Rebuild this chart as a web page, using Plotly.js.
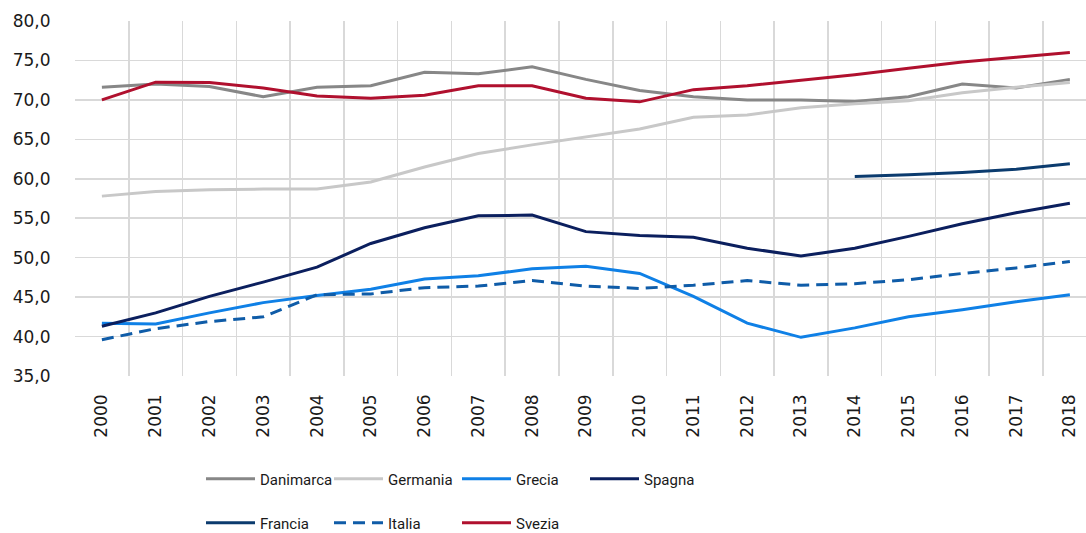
<!DOCTYPE html>
<html><head><meta charset="utf-8">
<script src="https://cdn.plot.ly/plotly-3.0.1.min.js"></script>
<style>html,body{margin:0;padding:0;background:#fff}#c{width:1086px;height:533px}</style>
</head><body><div id="c"></div>
<script>
const years = ["2000","2001","2002","2003","2004","2005","2006","2007","2008","2009","2010","2011","2012","2013","2014","2015","2016","2017","2018"];
const danimarca = [71.6,72.0,71.7,70.4,71.6,71.8,73.5,73.3,74.2,72.6,71.2,70.4,70.0,70.0,69.8,70.4,72.0,71.5,72.6];
const germania  = [57.8,58.4,58.6,58.7,58.7,59.6,61.5,63.2,64.3,65.3,66.3,67.8,68.1,69.0,69.5,69.9,70.9,71.6,72.2];
const grecia    = [41.7,41.6,43.0,44.3,45.2,46.0,47.3,47.7,48.6,48.9,48.0,45.1,41.7,39.9,41.1,42.5,43.4,44.4,45.3];
const spagna    = [41.3,43.0,45.1,46.9,48.8,51.8,53.8,55.3,55.4,53.3,52.8,52.6,51.2,50.2,51.2,52.7,54.3,55.7,56.9];
const francia   = [null,null,null,null,null,null,null,null,null,null,null,null,null,null,60.3,60.5,60.8,61.2,61.9];
const italia    = [39.6,41.0,41.9,42.5,45.3,45.4,46.2,46.4,47.1,46.4,46.1,46.5,47.1,46.5,46.7,47.2,48.0,48.7,49.5];
const svezia    = [70.0,72.25,72.2,71.5,70.5,70.2,70.6,71.8,71.8,70.2,69.75,71.3,71.8,72.5,73.2,74.0,74.8,75.4,76.0];

function tr(name, y, color, legend, dash){
  return {type:'scatter', mode:'lines', x:years, y:y, name:name, legend:legend,
    line:{color:color, width:3, dash:dash||'solid'}, connectgaps:false, hoverinfo:'skip'};
}
const data = [
  tr('Danimarca', danimarca, '#878787', 'legend'),
  tr('Germania', germania, '#c8c8c8', 'legend'),
  tr('Grecia', grecia, '#0f80e6', 'legend'),
  tr('Spagna', spagna, '#0b1f5e', 'legend'),
  tr('Francia', francia, '#0b3b6e', 'legend2'),
  tr('Italia', italia, '#0f5ca8', 'legend2', '12px,7px'),
  tr('Svezia', svezia, '#b0102e', 'legend2')
];
const tickFont = {family:'DejaVu Sans, sans-serif', size:17, color:'#1a1a1a'};
const legFont = {family:'Roboto, sans-serif', size:15, color:'#1a1a1a'};
const legX = (201-75)/1011;
const layout = {
  width:1086, height:533,
  margin:{l:75, r:0, t:21, b:157},
  paper_bgcolor:'#fff', plot_bgcolor:'#fff',
  separators:',.',
  showlegend:true,
  xaxis:{type:'category', range:[-0.5,18.3], tickson:'boundaries', showgrid:true,
    gridcolor:'#d9d9d9', gridwidth:1.5, tickangle:-90, ticks:'', ticklabelstandoff:14,
    zeroline:false, showline:false, tickfont:tickFont},
  yaxis:{range:[35,80], dtick:5, tick0:35, tickformat:'.1f', showgrid:true,
    gridcolor:'#d9d9d9', gridwidth:1.5, zeroline:false, showline:false,
    ticks:'outside', ticklen:20, tickcolor:'rgba(0,0,0,0)', tickfont:tickFont},
  legend:{orientation:'h', x:legX, xanchor:'left', y:1-479/533, yref:'container', yanchor:'middle',
    font:legFont, entrywidth:64, entrywidthmode:'pixels', itemwidth:49, bgcolor:'rgba(0,0,0,0)'},
  legend2:{orientation:'h', x:legX, xanchor:'left', y:1-523/533, yref:'container', yanchor:'middle',
    font:legFont, entrywidth:64, entrywidthmode:'pixels', itemwidth:49, bgcolor:'rgba(0,0,0,0)'}
};
Plotly.newPlot('c', data, layout, {staticPlot:true, displayModeBar:false});
</script></body></html>
